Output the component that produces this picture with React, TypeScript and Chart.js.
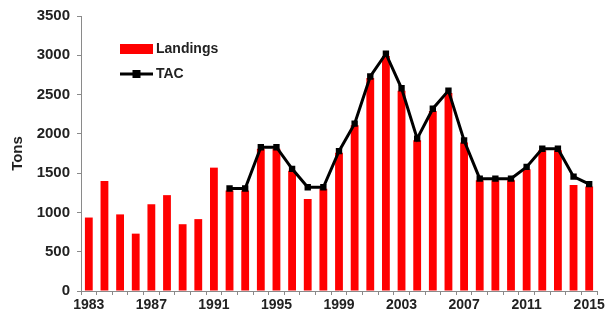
import React, { useEffect, useRef } from "react";
import { Chart, registerables } from "chart.js";

Chart.register(...registerables);

const years = [
  "1983", "1984", "1985", "1986", "1987", "1988", "1989", "1990", "1991", "1992",
  "1993", "1994", "1995", "1996", "1997", "1998", "1999", "2000", "2001", "2002",
  "2003", "2004", "2005", "2006", "2007", "2008", "2009", "2010", "2011", "2012",
  "2013", "2014", "2015",
];

const landings = [
  935, 1400, 975, 730, 1105, 1220, 850, 915, 1570, 1280,
  1280, 1810, 1810, 1530, 1170, 1300, 1760, 2110, 2710, 2990,
  2550, 1920, 2290, 2520, 1890, 1410, 1410, 1410, 1550, 1790,
  1790, 1350, 1330,
];

const tac = [
  null, null, null, null, null, null, null, null, null, 1305,
  1305, 1830, 1830, 1555, 1320, 1320, 1780, 2130, 2730, 3020,
  2580, 1940, 2320, 2550, 1915, 1430, 1430, 1430, 1580, 1810,
  1810, 1455, 1360,
];

const yTicks = [0, 500, 1000, 1500, 2000, 2500, 3000, 3500];

const AXIS_COLOR = "#8a8a8a";
const TEXT_COLOR = "#222222";
const FONT = "'Liberation Sans', Arial, sans-serif";

const legendPlugin = {
  id: "customLegend",
  afterDraw(chart: any) {
    const { ctx, chartArea } = chart;
    const x0 = chartArea.left + 39;
    const y1 = chartArea.top + 33;
    const y2 = chartArea.top + 58;
    const ds = chart.data.datasets;
    ctx.save();
    ctx.fillStyle = ds[0].backgroundColor;
    ctx.fillRect(x0, y1 - 5, 33, 10);
    ctx.strokeStyle = ds[1].borderColor;
    ctx.lineWidth = 3;
    ctx.beginPath();
    ctx.moveTo(x0, y2);
    ctx.lineTo(x0 + 33, y2);
    ctx.stroke();
    ctx.fillStyle = ds[1].pointBackgroundColor;
    ctx.fillRect(x0 + 16.5 - 4, y2 - 4, 8, 8);
    ctx.fillStyle = TEXT_COLOR;
    ctx.font = `bold 14px ${FONT}`;
    ctx.textBaseline = "middle";
    ctx.textAlign = "left";
    ctx.fillText(ds[0].label, x0 + 36, y1);
    ctx.fillText(ds[1].label, x0 + 36, y2);
    ctx.restore();
  },
};

export default function App() {
  const canvasRef = useRef<HTMLCanvasElement | null>(null);

  useEffect(() => {
    document.body.style.margin = "0";
    const canvas = canvasRef.current;
    if (!canvas) return;
    const chart = new Chart(canvas, {
      type: "bar",
      data: {
        labels: years,
        datasets: [
          {
            type: "bar",
            label: "Landings",
            data: landings,
            backgroundColor: "#ff0000",
            borderWidth: 0,
            barPercentage: 0.5,
            categoryPercentage: 1.0,
            order: 2,
          },
          {
            type: "line",
            label: "TAC",
            data: tac as any,
            borderColor: "#000000",
            borderWidth: 3,
            pointStyle: "rect",
            pointRadius: 4.5,
            pointBackgroundColor: "#000000",
            pointBorderColor: "#000000",
            pointBorderWidth: 0,
            tension: 0,
            fill: false,
            order: 1,
          } as any,
        ],
      },
      options: {
        responsive: false,
        animation: false,
        layout: { padding: { top: 15, right: 10, left: 0, bottom: 0 } },
        plugins: {
          legend: { display: false },
          tooltip: { enabled: false },
        },
        scales: {
          x: {
            offset: true,
            grid: {
              offset: true,
              drawOnChartArea: false,
              drawTicks: true,
              tickLength: 4,
              color: AXIS_COLOR,
            },
            border: { color: AXIS_COLOR, width: 1 },
            ticks: {
              autoSkip: false,
              maxRotation: 0,
              minRotation: 0,
              padding: 2,
              color: TEXT_COLOR,
              font: { family: FONT, size: 14, weight: "bold" },
              callback: (_v: any, i: number) => (i % 4 === 0 ? years[i] : ""),
            },
            afterFit: (s: any) => {
              s.height = 29;
            },
          },
          y: {
            min: 0,
            max: 3500,
            afterBuildTicks: (s: any) => {
              s.ticks = yTicks.map((v) => ({ value: v }));
            },
            grid: {
              drawOnChartArea: false,
              drawTicks: true,
              tickLength: 4,
              color: AXIS_COLOR,
            },
            border: { color: AXIS_COLOR, width: 1 },
            ticks: {
              padding: 7,
              color: TEXT_COLOR,
              font: { family: FONT, size: 15, weight: "bold" },
              callback: (v: any) => String(v),
            },
            title: {
              display: true,
              text: "Tons",
              color: TEXT_COLOR,
              font: { family: FONT, size: 15, weight: "bold" },
              padding: { top: 9, bottom: 0 },
            },
            afterFit: (s: any) => {
              s.width = 81;
            },
          },
        },
      },
      plugins: [legendPlugin],
    });
    return () => chart.destroy();
  }, []);

  return (
    <div style={{ width: 607, height: 320 }}>
      <canvas ref={canvasRef} width={607} height={320} style={{ display: "block" }} />
    </div>
  );
}
